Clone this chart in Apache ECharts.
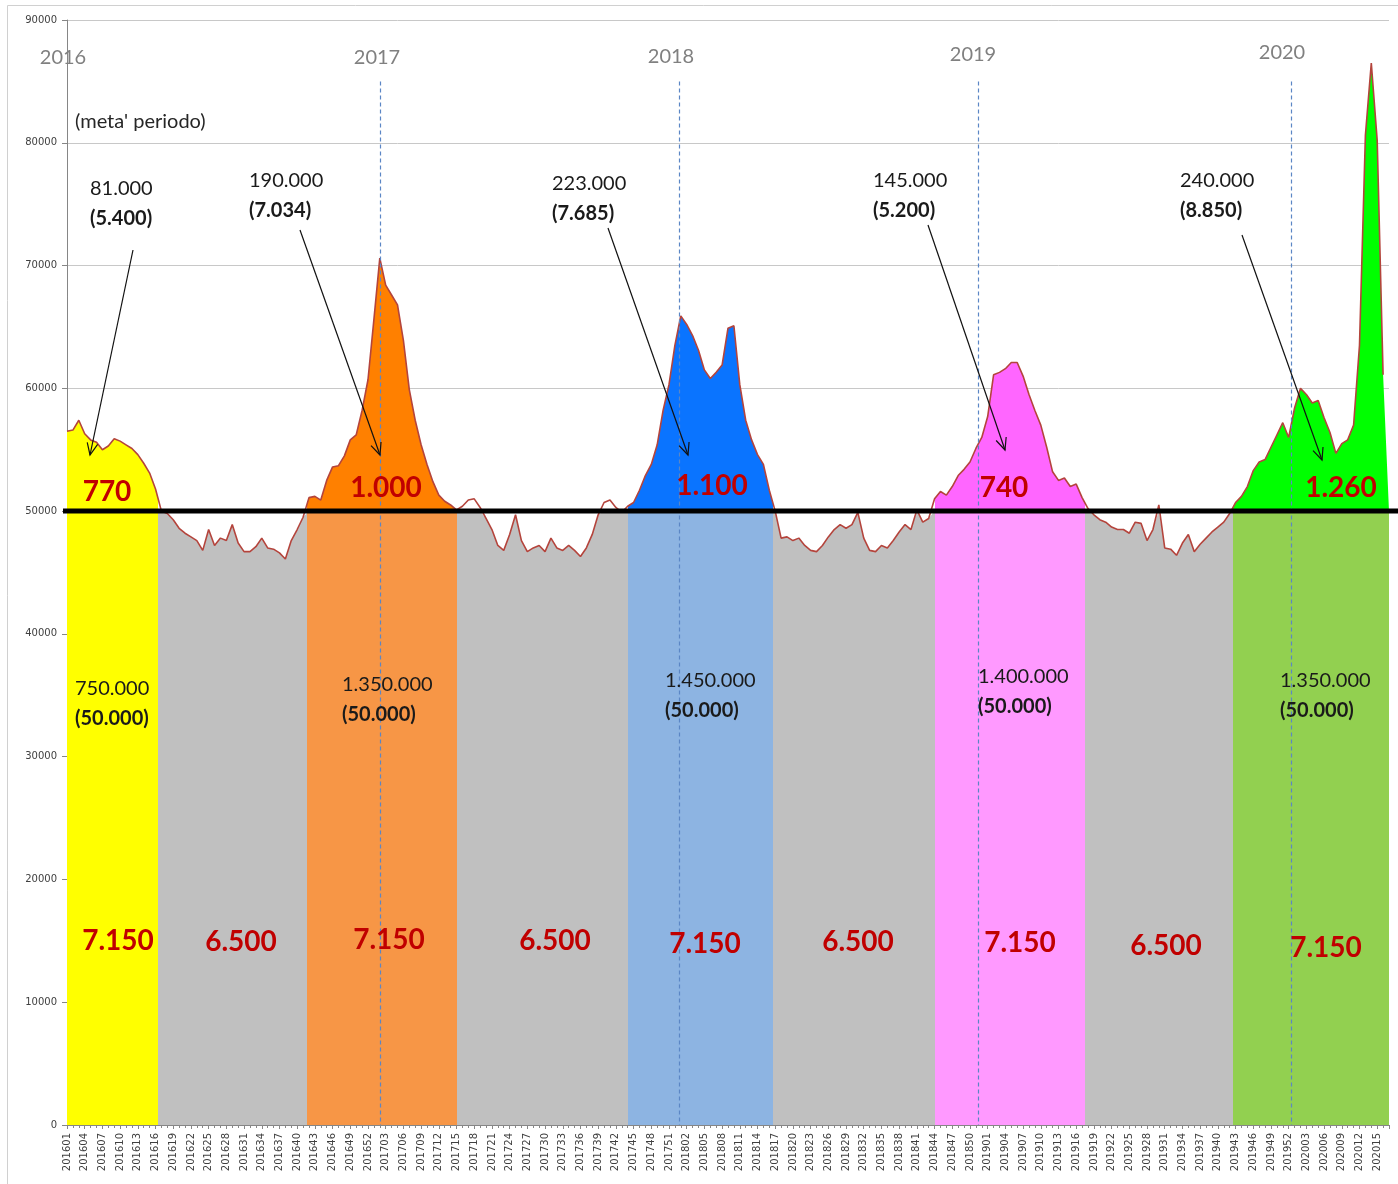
<!DOCTYPE html>
<html><head><meta charset="utf-8">
<script src="https://cdn.jsdelivr.net/npm/echarts@6/dist/echarts.min.js"></script>
<style>html,body{margin:0;padding:0;background:#fff}#c{width:1398px;height:1184px}</style>
</head><body><div id="c"></div>
<script>
// ---------------- data ----------------
const years = [2016, 2017, 2018, 2019, 2020];
const weeksPerYear = [52, 52, 52, 52, 17];
const weeks = [];
years.forEach((y, k) => { for (let w = 1; w <= weeksPerYear[k]; w++) weeks.push(String(y) + (w < 10 ? '0' : '') + w); });

// weekly values 201601 .. 202016
const values = [
 56500,56600,57400,56300,55800,55600,55000,55300,55900,55700,55400,55100,54600,53900,53100,51800,
 50000,49800,49300,48600,48200,47900,47600,46800,48500,47200,47800,47600,48900,47400,46700,46700,
 47100,47800,47000,46900,46600,46100,47600,48500,49500,
 51100,51200,50900,52500,53600,53700,54500,55800,56200,58200,60700,65600,70600,68400,67600,66800,
 63900,59900,57400,55400,53800,52400,51300,50800,50500,50100,
 50400,50900,51000,50300,49400,48500,47200,46800,48100,49700,47600,46700,47000,47200,46700,47800,
 47000,46800,47200,46800,46300,47000,48100,49700,50700,50900,50300,49900,50400,
 50700,51700,52900,53800,55400,58200,60300,63500,65900,65200,64300,63100,61500,60800,61300,61900,
 64900,65100,60300,57400,55800,54600,53800,51700,50000,
 47800,47900,47600,47800,47200,46800,46700,47200,47900,48500,48900,48600,48900,49900,47800,46800,
 46700,47200,47000,47600,48300,48900,48500,50100,49100,49400,
 51000,51600,51300,52000,52900,53400,54000,55100,56000,57700,61100,61300,61600,62100,62100,61000,
 59500,58200,57000,55200,53200,52500,52700,52000,52200,51100,
 50200,49700,49300,49100,48700,48500,48500,48200,49100,49000,47600,48500,50500,47000,46900,46400,
 47400,48100,46700,47300,47800,48300,48700,49100,49800,
 50700,51200,52000,53300,54000,54200,55200,56200,57200,56000,58400,60000,59500,58800,59000,57600,
 56400,54700,55500,55800,57000,63500,80600,86500,80200,61100
];
const tailValue = 50000;          // filled area closes at 202017
const threshold = 50000;

// week positions where the coloured season bands change
const seasonEdges = [15.4, 40.7, 66.1, 95.1, 119.7, 147.1, 172.5, 197.6];
const yearLineWeeks = [53, 103.7, 154.4, 207.5];

const yearLabels = ['2016', '2017', '2018', '2019', '2020'];
const peakTotals = ['81.000', '190.000', '223.000', '145.000', '240.000'];
const peakWeekly = ['(5.400)', '(7.034)', '(7.685)', '(5.200)', '(8.850)'];
const excessLabels = ['770', '1.000', '1.100', '740', '1.260'];
const seasonTotals = ['750.000', '1.350.000', '1.450.000', '1.400.000', '1.350.000'];
const seasonWeekly = ['(50.000)', '(50.000)', '(50.000)', '(50.000)', '(50.000)'];
const bandDaily = ['7.150', '6.500', '7.150', '6.500', '7.150', '6.500', '7.150', '6.500', '7.150'];

// ---------------- styling ----------------
const lowColors = ['#FFFF00', '#C0C0C0', '#F79646', '#C0C0C0', '#8DB4E2', '#C0C0C0', '#FF99FF', '#C0C0C0', '#92D050'];
const clear = 'rgba(255,255,255,0)';
const highColors = ['#FFFF00', clear, '#FF8000', clear, '#0A74FF', clear, '#FF66FF', clear, '#00FF00'];

function pieces(colors) {
  const out = [];
  const e = [-5].concat(seasonEdges, [240]);
  for (let i = 0; i < colors.length; i++) out.push({ gt: e[i], lte: e[i + 1], color: colors[i] });
  return out;
}

const all = values.concat([tailValue]);
const fullData = all.map((v, i) => [i, v]);
const lowData = all.map((v, i) => [i, Math.min(v, threshold)]);
const lineData = values.map((v, i) => [i, v]);

const chart = echarts.init(document.getElementById('c'), null, { renderer: 'canvas' });

function txt(str, x, y, o) {
  return { type: 'text', x: x, y: y, z: 100, silent: true,
    style: Object.assign({ text: str, fill: '#1a1a1a', fontFamily: 'Lato', fontSize: 20, align: 'left', verticalAlign: 'middle' }, o || {}) };
}
function arrow(x1, y1, x2, y2) {
  const a = Math.atan2(y2 - y1, x2 - x1), L = 13, s = 0.42;
  const p1 = [x2 - L * Math.cos(a - s), y2 - L * Math.sin(a - s)];
  const p2 = [x2 - L * Math.cos(a + s), y2 - L * Math.sin(a + s)];
  return [
    { type: 'line', z: 100, silent: true, shape: { x1: x1, y1: y1, x2: x2, y2: y2 }, style: { stroke: '#111', lineWidth: 1.2 } },
    { type: 'polyline', z: 100, silent: true, shape: { points: [p1, [x2, y2], p2] }, style: { stroke: '#111', lineWidth: 1.2, fill: 'none' } }
  ];
}

const graphics = [];
graphics.push({ type: 'rect', z: 0, silent: true, shape: { x: 7.5, y: 5.5, width: 1400, height: 1200 }, style: { fill: 'none', stroke: '#D0D0D0', lineWidth: 1 } });
const yearPos = [[63, 58], [377, 58], [671, 57], [973, 55], [1282, 53]];
yearLabels.forEach((t, i) => graphics.push(txt(t, yearPos[i][0], yearPos[i][1], { fill: '#808080', align: 'center' })));
graphics.push(txt("(meta' periodo)", 75, 122, { fill: '#262626' }));
const peakPos = [[90, 189], [249, 181], [552, 184], [873, 181], [1180, 181]];
peakTotals.forEach((t, i) => {
  graphics.push(txt(t, peakPos[i][0], peakPos[i][1], { fill: '#1a1a1a' }));
  graphics.push(txt(peakWeekly[i], peakPos[i][0], peakPos[i][1] + 30, { fontWeight: 'bold', fill: '#1a1a1a' }));
});
const arrows = [[133, 250, 90, 455], [300, 230, 380, 455], [608, 228, 688, 455], [928, 225, 1005, 450], [1242, 235, 1322, 460]];
arrows.forEach(a => arrow(a[0], a[1], a[2], a[3]).forEach(g => graphics.push(g)));
const excessPos = [[107, 492], [386, 488], [712, 486], [1004, 488], [1341, 488]];
excessLabels.forEach((t, i) => graphics.push(txt(t, excessPos[i][0], excessPos[i][1], { fill: '#C00000', fontWeight: 'bold', fontSize: 28, align: 'center' })));
const totalPos = [[75, 689], [342, 685], [665, 681], [978, 677], [1280, 681]];
seasonTotals.forEach((t, i) => {
  graphics.push(txt(t, totalPos[i][0], totalPos[i][1]));
  graphics.push(txt(seasonWeekly[i], totalPos[i][0], totalPos[i][1] + 30, { fontWeight: 'bold' }));
});
const dailyPos = [[118, 941], [241, 942], [389, 940], [555, 941], [705, 944], [858, 942], [1020, 943], [1166, 946], [1326, 948]];
bandDaily.forEach((t, i) => graphics.push(txt(t, dailyPos[i][0], dailyPos[i][1], { fill: '#C00000', fontWeight: 'bold', fontSize: 28, align: 'center' })));

const option = {
  animation: false,
  backgroundColor: '#ffffff',
  grid: { left: 67, right: 9, top: 20, bottom: 59, containLabel: false },
  xAxis: {
    type: 'value', min: 0, max: weeks.length - 1, interval: 3,
    axisLine: { show: true, lineStyle: { color: '#868686', width: 1 } },
    axisTick: { show: true, length: 4, lineStyle: { color: '#868686' } },
    minorTick: { show: true, splitNumber: 3, length: 3, lineStyle: { color: '#868686' } },
    splitLine: { show: false },
    axisLabel: { rotate: 90, fontSize: 10, fontFamily: 'DejaVu Sans', color: '#404040', margin: 8,
      showMaxLabel: false, formatter: v => weeks[Math.round(v)] || '' }
  },
  yAxis: {
    type: 'value', min: 0, max: 90000, interval: 10000,
    axisLine: { show: true, lineStyle: { color: '#868686' } },
    axisTick: { show: true, length: 5, lineStyle: { color: '#868686' } },
    splitLine: { show: true, lineStyle: { color: '#C8C8C8', width: 1 } },
    axisLabel: { fontSize: 10, fontFamily: 'DejaVu Sans', color: '#404040', margin: 10, formatter: v => String(v) }
  },
  visualMap: [
    { type: 'piecewise', show: false, dimension: 0, seriesIndex: 0, pieces: pieces(highColors) },
    { type: 'piecewise', show: false, dimension: 0, seriesIndex: 1, pieces: pieces(lowColors) }
  ],
  series: [
    { name: 'excess', type: 'line', data: fullData, symbol: 'none', silent: true, z: 1,
      lineStyle: { width: 0, opacity: 0 }, areaStyle: { opacity: 1 } },
    { name: 'base', type: 'line', data: lowData, symbol: 'none', silent: true, z: 2,
      lineStyle: { width: 0, opacity: 0 }, areaStyle: { opacity: 1 } },
    { name: 'weekly', type: 'line', data: lineData, symbol: 'none', silent: true, z: 3,
      lineStyle: { color: '#B4443C', width: 1.6 },
      markLine: { silent: true, symbol: ['none', 'none'], label: { show: false },
        lineStyle: { color: '#5B86C5', width: 1.2, type: [4, 3] },
        data: yearLineWeeks.map(w => [{ coord: [w, 85000] }, { coord: [w, 0] }]) } }
  ],
  graphic: graphics
};
chart.setOption(option);
const yT = chart.convertToPixel({ yAxisIndex: 0 }, threshold);
chart.setOption({ graphic: [{ id: 'threshold', type: 'line', z: 90, silent: true,
  shape: { x1: 63, y1: yT, x2: 1398, y2: yT }, style: { stroke: '#000', lineWidth: 5 } }] });
</script></body></html>
